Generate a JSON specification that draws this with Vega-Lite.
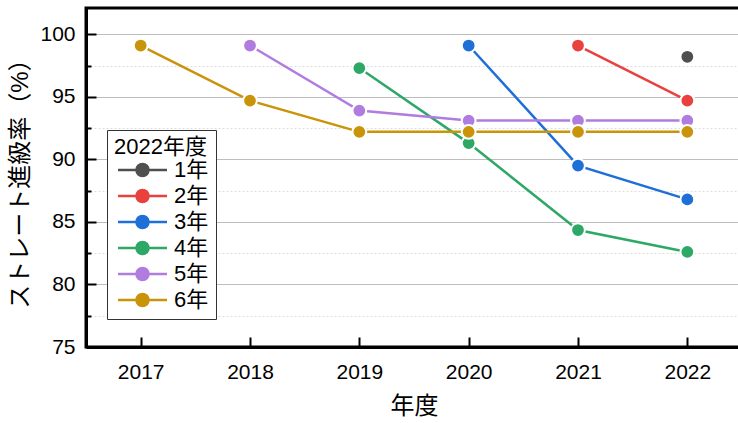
{
  "$schema": "https://vega.github.io/schema/vega-lite/v6.json",
  "width": 656,
  "height": 339,
  "autosize": {"type": "none"},
  "padding": {"left": 86, "top": 8, "right": 0, "bottom": 76},
  "background": "white",
  "config": {
    "font": "Liberation Sans, Noto Sans CJK JP, sans-serif",
    "view": {"stroke": "black", "strokeWidth": 3},
    "axis": {
      "domainColor": "black",
      "domainWidth": 3,
      "tickColor": "black",
      "tickWidth": 2,
      "labelColor": "black",
      "labelFontSize": 21,
      "titleColor": "black",
      "titleFontWeight": "normal"
    }
  },
  "data": {
    "values": [
      {"year": 2022, "grade": "1年", "rate": 98.2},
      {"year": 2021, "grade": "2年", "rate": 99.1},
      {"year": 2022, "grade": "2年", "rate": 94.7},
      {"year": 2020, "grade": "3年", "rate": 99.1},
      {"year": 2021, "grade": "3年", "rate": 89.5},
      {"year": 2022, "grade": "3年", "rate": 86.8},
      {"year": 2019, "grade": "4年", "rate": 97.3},
      {"year": 2020, "grade": "4年", "rate": 91.3},
      {"year": 2021, "grade": "4年", "rate": 84.35},
      {"year": 2022, "grade": "4年", "rate": 82.6},
      {"year": 2018, "grade": "5年", "rate": 99.1},
      {"year": 2019, "grade": "5年", "rate": 93.9},
      {"year": 2020, "grade": "5年", "rate": 93.1},
      {"year": 2021, "grade": "5年", "rate": 93.1},
      {"year": 2022, "grade": "5年", "rate": 93.1},
      {"year": 2017, "grade": "6年", "rate": 99.1},
      {"year": 2018, "grade": "6年", "rate": 94.7},
      {"year": 2019, "grade": "6年", "rate": 92.2},
      {"year": 2020, "grade": "6年", "rate": 92.2},
      {"year": 2021, "grade": "6年", "rate": 92.2},
      {"year": 2022, "grade": "6年", "rate": 92.2}
    ]
  },
  "encoding": {
    "x": {
      "field": "year",
      "type": "quantitative",
      "scale": {"domain": [2016.5, 2022.5], "nice": false, "zero": false},
      "axis": {
        "values": [2017, 2018, 2019, 2020, 2021, 2022],
        "format": "d",
        "grid": false,
        "tickSize": -10,
        "labelPadding": 24,
        "title": "年度",
        "titleFontSize": 24,
        "titlePadding": 12
      }
    },
    "y": {
      "field": "rate",
      "type": "quantitative",
      "scale": {"domain": [75, 102.1], "nice": false, "zero": false},
      "axis": {
        "values": [75, 77.5, 80, 82.5, 85, 87.5, 90, 92.5, 95, 97.5, 100],
        "labelExpr": "datum.value % 5 === 0 ? datum.label : ''",
        "grid": true,
        "gridColor": {"condition": {"test": "datum.value % 5 !== 0", "value": "#dddddd"}, "value": "#bdbdbd"},
        "gridDash": {"condition": {"test": "datum.value % 5 !== 0", "value": [2, 2]}, "value": []},
        "gridWidth": 1,
        "tickSize": {"condition": {"test": "datum.value % 5 !== 0", "value": -5}, "value": -10},
        "labelPadding": 21,
        "title": "ストレート進級率（%）",
        "titleFontSize": 24,
        "titlePadding": 7
      }
    },
    "color": {
      "field": "grade",
      "type": "nominal",
      "scale": {
        "domain": ["1年", "2年", "3年", "4年", "5年", "6年"],
        "range": ["#4f4f4f", "#e8413e", "#1f6fd8", "#2ea866", "#b07ce0", "#c9930a"]
      },
      "legend": {
        "title": "2022年度",
        "orient": "none",
        "legendX": 21,
        "legendY": 122,
        "fillColor": "white",
        "strokeColor": "#333333",
        "padding": 7,
        "titleFontSize": 22,
        "titleFontWeight": "normal",
        "titleColor": "black",
        "titlePadding": 0,
        "labelFontSize": 22,
        "labelColor": "black",
        "labelOffset": 38,
        "rowPadding": 2,
        "symbolSize": 196,
        "symbolType": "M-1,0H6M1.64,0A0.86,0.86,0,1,0,3.36,0A0.86,0.86,0,1,0,1.64,0Z",
        "symbolStrokeWidth": 2.5,
        "encode": {
          "symbols": {
            "update": {
              "fill": {"scale": "color", "field": "value"},
              "stroke": {"scale": "color", "field": "value"},
              "opacity": {"value": 1}
            }
          }
        }
      }
    }
  },
  "layer": [
    {"mark": {"type": "line", "strokeWidth": 2.5}},
    {"mark": {"type": "point", "filled": true, "size": 190, "opacity": 1, "stroke": "white", "strokeWidth": 2}}
  ]
}
